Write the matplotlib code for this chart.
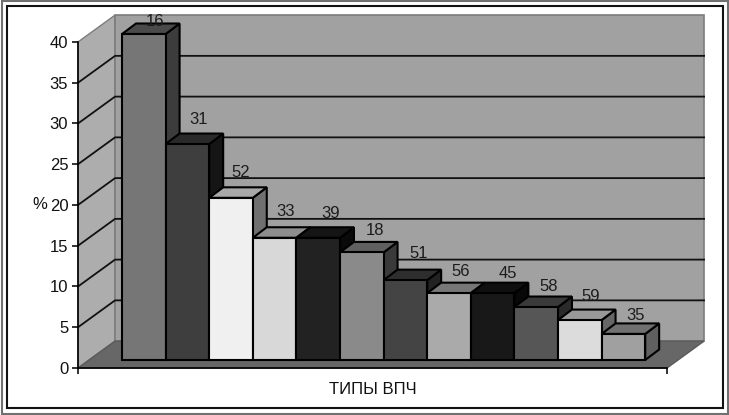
import numpy as np
import matplotlib
matplotlib.use("Agg")
import matplotlib.pyplot as plt
from matplotlib.patches import Polygon, Rectangle

plt.rcParams['font.family'] = ['Liberation Sans', 'DejaVu Sans']

# данные
labels = ['16', '31', '52', '33', '39', '18', '51', '56', '45', '58', '59', '35']
values = [40, 26.5, 19.9, 15, 15, 13.2, 9.8, 8.2, 8.2, 6.5, 4.9, 3.2]
yticks = [0, 5, 10, 15, 20, 25, 30, 35, 40]
xlabel = 'ТИПЫ ВПЧ'
ylabel = '%'

# оттенки граней столбцов
front_colors = ['#767676', '#3e3e3e', '#f0f0f0', '#d8d8d8', '#222222', '#8a8a8a',
                '#444444', '#aaaaaa', '#181818', '#565656', '#dcdcdc', '#a0a0a0']
top_colors = ['#4a4a4a', '#2a2a2a', '#a8a8a8', '#8e8e8e', '#151515', '#606060',
              '#2e2e2e', '#777777', '#0f0f0f', '#3a3a3a', '#999999', '#707070']
side_colors = ['#3c3c3c', '#151515', '#707070', '#5a5a5a', '#0a0a0a', '#3a3a3a',
               '#222222', '#555555', '#080808', '#2a2a2a', '#666666', '#606060']
# сдвиг подписи над столбцом, в пунктах
label_gaps = [-4, 4.5, 5.5, 6, 4.5, 3, 6, 2.5, 1, 2, 4, 0.5]
label_shifts = [0, 0, -1, 0, 1, 1.5, 1.5, 0, 3, 1, 0, 1]

WIDTH, HEIGHT = 729, 415
X_MAX = 13.51       # ширина передней плоскости в ширинах столбца
WALL_DX, WALL_DY = 0.85, 3.3
BAR_DX, BAR_DY = 0.32, 1.29
BAR_X0, BAR_Y0 = 1.01, 0.98


def poly(ax, pts, color, edge='black', lw=1.5, zorder=3):
    ax.add_patch(Polygon(pts, closed=True, facecolor=color, edgecolor=edge,
                         linewidth=lw, clip_on=False, joinstyle='miter', zorder=zorder))


def draw_walls(ax):
    top = yticks[-1]
    # боковая стена, задняя стена, пол
    poly(ax, [(0, 0), (WALL_DX, WALL_DY), (WALL_DX, top + WALL_DY), (0, top)],
         '#adadad', edge='#7c7c7c', lw=1, zorder=1)
    poly(ax, [(WALL_DX, WALL_DY), (X_MAX + WALL_DX, WALL_DY),
              (X_MAX + WALL_DX, top + WALL_DY), (WALL_DX, top + WALL_DY)],
         '#a1a1a1', edge='#7c7c7c', lw=1.2, zorder=1)
    poly(ax, [(0, 0), (X_MAX, 0), (X_MAX + WALL_DX, WALL_DY), (WALL_DX, WALL_DY)],
         '#676767', edge='#5a5a5a', lw=1, zorder=1)
    for v in yticks[1:-1]:
        ax.plot([0, WALL_DX, X_MAX + WALL_DX], [v, v + WALL_DY, v + WALL_DY],
                color='#111111', lw=1.3, clip_on=False, zorder=2)


def draw_bar(ax, i, value):
    x0 = BAR_X0 + i
    x1 = x0 + 1
    y0 = BAR_Y0
    y1 = y0 + value
    poly(ax, [(x1, y0), (x1 + BAR_DX, y0 + BAR_DY), (x1 + BAR_DX, y1 + BAR_DY), (x1, y1)],
         side_colors[i])
    poly(ax, [(x0, y1), (x1, y1), (x1 + BAR_DX, y1 + BAR_DY), (x0 + BAR_DX, y1 + BAR_DY)],
         top_colors[i])
    poly(ax, [(x0, y0), (x1, y0), (x1, y1), (x0, y1)], front_colors[i])
    ax.annotate(labels[i], (x0 + 0.5 + BAR_DX * 0.8, y1 + BAR_DY),
                xytext=(label_shifts[i], label_gaps[i]), textcoords='offset points',
                ha='center', va='bottom', fontsize=12, color='#1c1c1c',
                annotation_clip=False, zorder=5)


def main():
    fig = plt.figure(figsize=(WIDTH / 100, HEIGHT / 100), dpi=100, facecolor='white')

    # рамки вокруг рисунка
    fig.add_artist(Rectangle((1.5 / WIDTH, 1.5 / HEIGHT), 726 / WIDTH, 412 / HEIGHT,
                             transform=fig.transFigure, fill=False,
                             edgecolor='#707070', linewidth=1.5))
    fig.add_artist(Rectangle((6.5 / WIDTH, 7 / HEIGHT), 716 / WIDTH, 402 / HEIGHT,
                             transform=fig.transFigure, fill=False,
                             edgecolor='#111111', linewidth=1.5))

    ax = fig.add_axes([78 / WIDTH, 1 - 368 / HEIGHT, 589 / WIDTH, 326 / HEIGHT])
    ax.set_xlim(0, X_MAX)
    ax.set_ylim(0, yticks[-1])
    ax.patch.set_visible(False)

    draw_walls(ax)
    for i, v in enumerate(values):
        draw_bar(ax, i, v)

    ax.set_yticks(yticks)
    ax.set_xticks([0, X_MAX])
    ax.set_xticklabels(['', ''])
    ax.tick_params(axis='both', length=4, width=1.2, color='#111111',
                   labelsize=12, labelcolor='#111111', pad=3)
    ax.spines['top'].set_visible(False)
    ax.spines['right'].set_visible(False)
    ax.spines['left'].set_linewidth(1.2)
    ax.spines['bottom'].set_linewidth(1.2)
    ax.spines['left'].set_zorder(6)
    ax.spines['bottom'].set_zorder(6)

    ax.set_xlabel(xlabel, fontsize=12, color='#111111', labelpad=3)
    ax.set_ylabel(ylabel, fontsize=12, color='#111111', rotation=0,
                  va='center', labelpad=7)

    fig.savefig('out.png', dpi=100)


if __name__ == "__main__":
    main()
